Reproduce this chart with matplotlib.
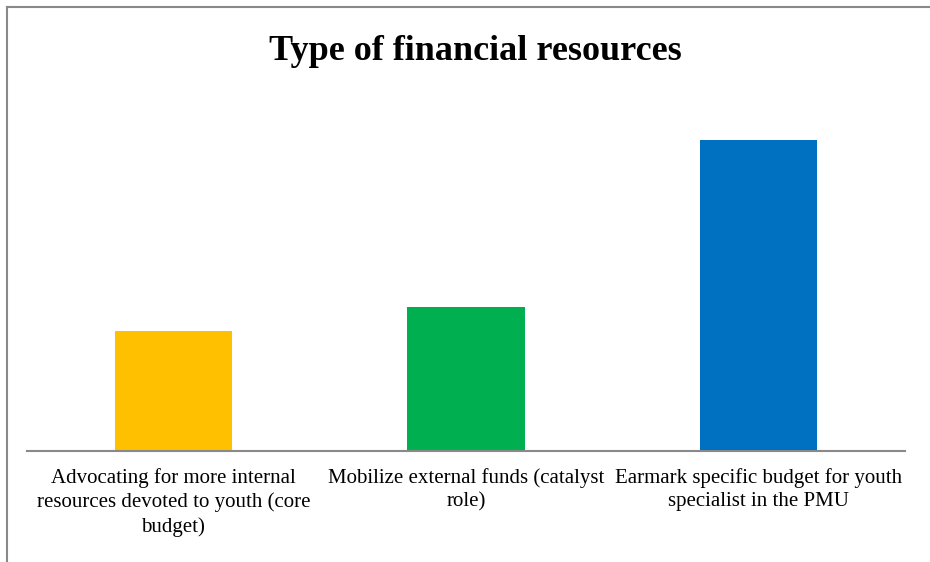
"""Bar chart: type of financial resources."""
import matplotlib
matplotlib.use("Agg")
import matplotlib.pyplot as plt
from matplotlib.lines import Line2D

categories = [
    "Advocating for more internal\nresources devoted to youth (core\nbudget)",
    "Mobilize external funds (catalyst\nrole)",
    "Earmark specific budget for youth\nspecialist in the PMU",
]
values = [5, 6, 13]
colors = ["#FFC000", "#00B050", "#0070C0"]

plt.rcParams["font.family"] = ["Liberation Serif", "DejaVu Serif"]

W, H = 930, 562
fig = plt.figure(figsize=(W / 100, H / 100), dpi=100)
ax = fig.add_axes([27 / W, (H - 451) / H, (905 - 27) / W, (451 - 116) / H])

x = list(range(len(categories)))
ax.bar(x, values, width=0.4, color=colors)
ax.set_xlim(-0.5, len(categories) - 0.5)
ax.set_ylim(0, 14)

for side in ("top", "right", "left"):
    ax.spines[side].set_visible(False)
ax.spines["bottom"].set_color("#898989")
ax.spines["bottom"].set_linewidth(1.5)
ax.set_yticks([])
ax.set_xticks(x)
ax.set_xticklabels(categories, fontsize=15, multialignment="center",
                   linespacing=1.35)
ax.tick_params(axis="x", length=0, pad=12)

fig.text(475 / W, 1 - 51 / H, "Type of financial resources", ha="center",
         va="center", fontsize=26, fontweight="bold")

# chart frame (only top and left edges visible)
fig.add_artist(Line2D([6.5 / W, 1], [1 - 7 / H] * 2, color="#898989",
                      lw=1.5, transform=fig.transFigure))
fig.add_artist(Line2D([6.5 / W] * 2, [0, 1 - 7 / H], color="#898989",
                      lw=1.5, transform=fig.transFigure))

fig.savefig("out.png", dpi=100)
